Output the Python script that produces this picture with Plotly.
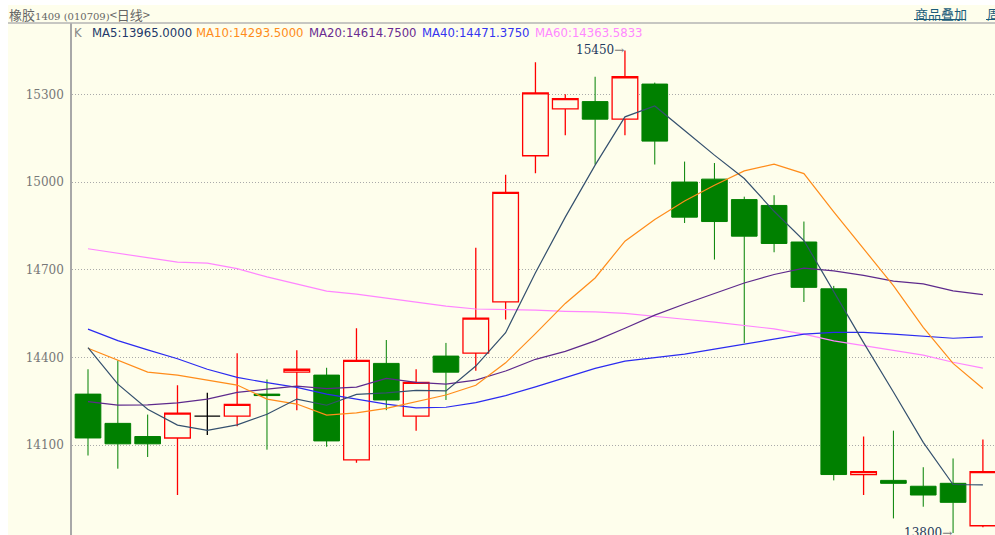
import plotly.graph_objects as go

# ---------------- data ----------------
days = list(range(1, 32))
open_ = [14275, 14175, 14130, 14125, 14200, 14200, 14275, 14350, 14340, 14050,
         14380, 14200, 14405, 14415, 14590, 15090, 15250, 15275, 15215, 15335,
         15000, 15010, 14940, 14920, 14795, 14635, 14000, 13980, 13960, 13970,
         13825]
high = [14360, 14390, 14205, 14305, 14280, 14415, 14325, 14425, 14365, 14500,
        14460, 14360, 14450, 14775, 15025, 15410, 15300, 15360, 15450, 15340,
        15070, 15065, 14950, 14955, 14865, 14645, 14130, 14150, 14025, 14055,
        14120]
low = [14065, 14020, 14060, 13930, 14135, 14165, 14085, 14220, 14095, 14040,
       14220, 14150, 14255, 14355, 14530, 15030, 15160, 15060, 15160, 15060,
       14860, 14735, 14450, 14760, 14590, 13980, 13930, 13850, 13890, 13800,
       13820]
close = [14125, 14105, 14105, 14210, 14200, 14240, 14270, 14360, 14115, 14390,
         14255, 14315, 14350, 14535, 14965, 15305, 15285, 15215, 15360, 15140,
         14880, 14865, 14815, 14790, 14640, 14000, 14010, 13970, 13930, 13905,
         14010]

ma5 = [14434, 14309, 14223, 14169, 14151, 14170, 14206, 14258, 14237, 14274,
       14279, 14288, 14286, 14371, 14485, 14690, 14880, 15058, 15223, 15260,
       15176, 15092, 15012, 14900, 14800, 14625, 14451, 14282, 14110, 13966,
       13965]
ma10 = [14432, 14392, 14350, 14340, 14323, 14306, 14258, 14241, 14203, 14211,
        14226, 14248, 14272, 14305, 14382, 14482, 14585, 14672, 14798, 14872,
        14935, 14989, 15038, 15061, 15029, 14898, 14771, 14646, 14503, 14380,
        14294]
ma20 = [14249, 14237, 14238, 14245, 14258, 14281, 14292, 14302, 14294, 14299,
        14329, 14315, 14309, 14323, 14354, 14394, 14421, 14457, 14500, 14545,
        14583, 14620, 14655, 14684, 14706, 14696, 14681, 14661, 14652, 14628,
        14615]
ma40 = [14497, 14458, 14426, 14396, 14360, 14332, 14314, 14298, 14275, 14257,
        14241, 14228, 14230, 14246, 14270, 14300, 14331, 14363, 14388, 14400,
        14412, 14429, 14446, 14464, 14480, 14486, 14486, 14480, 14473, 14466,
        14471]
ma60 = [14772, 14756, 14741, 14726, 14723, 14704, 14676, 14651, 14627, 14617,
        14603, 14589, 14576, 14566, 14565, 14562, 14558, 14556, 14551, 14542,
        14531, 14521, 14510, 14498, 14480, 14457, 14441, 14425, 14408, 14384,
        14364]

ma_labels = ["MA5:13965.0000", "MA10:14293.5000", "MA20:14614.7500",
             "MA40:14471.3750", "MA60:14363.5833"]
y_ticks = [14100, 14400, 14700, 15000, 15300]
title_text = "橡胶<span style='font-size:10px;font-family:DejaVu Serif'>1409 (010709)</span>&lt;日线&gt;"
link_text = "商品叠加"
high_mark = 15450
low_mark = 13800

# ---------------- styling / geometry ----------------
BG = "#FEFEEC"
W, H = 995, 535
L, T = 72, 23
PW, PH = W - L, H - T
MA_COLORS = ["#34506E", "#FF8C1A", "#5E2A8C", "#2B2BF0", "#FF85FF"]
MA_TEXT_COLORS = ["#22386A", "#FF8C1A", "#6A2C91", "#3434F0", "#FF88FF"]


def px(x):
    return (x - L) / PW


def py(y):
    return 1 - (y - T) / PH


step = 29.83
x0 = 1 - (88 - L) / step
x1 = x0 + PW / step

normal = [i for i in range(len(days)) if open_[i] != close[i]]
doji = [i for i in range(len(days)) if open_[i] == close[i]]


def pick(arr, idx):
    return [arr[i] for i in idx]


fig = go.Figure()
fig.add_trace(go.Candlestick(
    x=pick(days, normal), open=pick(open_, normal), high=pick(high, normal),
    low=pick(low, normal), close=pick(close, normal),
    increasing=dict(line=dict(color="#FF0000", width=1.3), fillcolor=BG),
    decreasing=dict(line=dict(color="#008000", width=1), fillcolor="#008000"),
    whiskerwidth=0, hoverinfo="skip"))
if doji:
    fig.add_trace(go.Candlestick(
        x=pick(days, doji), open=pick(open_, doji), high=pick(high, doji),
        low=pick(low, doji), close=pick(close, doji),
        increasing=dict(line=dict(color="#000000", width=1.3), fillcolor="#000000"),
        decreasing=dict(line=dict(color="#000000", width=1.3), fillcolor="#000000"),
        whiskerwidth=0, hoverinfo="skip"))

for series, col in zip([ma60, ma40, ma20, ma10, ma5], MA_COLORS[::-1]):
    fig.add_trace(go.Scatter(x=days, y=series, mode="lines",
                             line=dict(color=col, width=1.2), hoverinfo="skip"))

annotations = []
# header row 1
annotations.append(dict(xref="paper", yref="paper", x=px(7), y=py(14),
                        xanchor="left", yanchor="middle", showarrow=False,
                        text=title_text,
                        font=dict(family="Noto Sans CJK SC", size=13, color="#666666")))
annotations.append(dict(xref="paper", yref="paper", x=px(913), y=py(13),
                        xanchor="left", yanchor="middle", showarrow=False,
                        text=link_text,
                        font=dict(family="Noto Sans CJK SC", size=13, color="#1A5C7A")))
annotations.append(dict(xref="paper", yref="paper", x=px(985), y=py(13),
                        xanchor="left", yanchor="middle", showarrow=False,
                        text="周",
                        font=dict(family="Noto Sans CJK SC", size=13, color="#1A5C7A")))
# header row 2
annotations.append(dict(xref="paper", yref="paper", x=px(72), y=py(33),
                        xanchor="left", yanchor="middle", showarrow=False,
                        text="K", font=dict(family="DejaVu Sans", size=11.7, color="#888888")))
label_x = [90, 194, 307, 420, 533]
for lab, lx, col in zip(ma_labels, label_x, MA_TEXT_COLORS):
    annotations.append(dict(xref="paper", yref="paper", x=px(lx), y=py(33),
                            xanchor="left", yanchor="middle", showarrow=False,
                            text=lab, font=dict(family="DejaVu Sans", size=11.7, color=col)))
# high / low markers
hi_i = high.index(high_mark)
lo_i = low.index(low_mark)
for xi, yv in [(days[hi_i], high_mark), (days[lo_i], low_mark)]:
    annotations.append(dict(xref="x", yref="y", x=xi, y=yv, xanchor="right",
                            yanchor="middle", showarrow=False, xshift=1,
                            text=f"{yv}<span style='color:#777777'>→</span>",
                            font=dict(family="DejaVu Serif", size=12, color="#1F3A5C")))

shapes = [
    dict(type="rect", xref="paper", yref="paper", x0=px(0), x1=px(W), y0=py(5), y1=py(0),
         fillcolor="#FFFFFF", line=dict(width=0), layer="below"),
    dict(type="rect", xref="paper", yref="paper", x0=px(0), x1=px(8), y0=py(H), y1=py(0),
         fillcolor="#FFFFFF", line=dict(width=0), layer="below"),
    dict(type="line", xref="paper", yref="paper", x0=px(8), x1=px(W), y0=py(23), y1=py(23),
         line=dict(color="#B4B4B4", width=1.5)),
    dict(type="line", xref="paper", yref="paper", x0=px(914), x1=px(966), y0=py(19.5), y1=py(19.5),
         line=dict(color="#1A5C7A", width=1)),
    dict(type="line", xref="paper", yref="paper", x0=px(986), x1=px(W), y0=py(19.5), y1=py(19.5),
         line=dict(color="#1A5C7A", width=1)),
]

fig.update_layout(
    width=W, height=H,
    margin=dict(l=L, r=0, t=T, b=0, pad=0),
    paper_bgcolor=BG, plot_bgcolor=BG,
    showlegend=False, hovermode=False,
    boxgap=0.14, boxgroupgap=0,
    xaxis=dict(range=[x0, x1], rangeslider=dict(visible=False), showgrid=False,
               zeroline=False, showticklabels=False, showline=False, ticks=""),
    yaxis=dict(range=[13793.3, 15543.8], tickvals=y_ticks,
               ticktext=[str(v) for v in y_ticks],
               showgrid=True, gridcolor="#AAAAAA", griddash="1px,2px", gridwidth=1,
               zeroline=False, showline=True, linecolor="#A8A8A8", linewidth=1.5,
               ticks="", ticklabelstandoff=4,
               tickfont=dict(family="DejaVu Serif", size=12, color="#777777")),
    annotations=annotations,
    shapes=shapes,
)

fig.write_html("out.html", config={"displayModeBar": False},
               post_script="document.body.style.margin='0';document.body.style.overflow='hidden';")
